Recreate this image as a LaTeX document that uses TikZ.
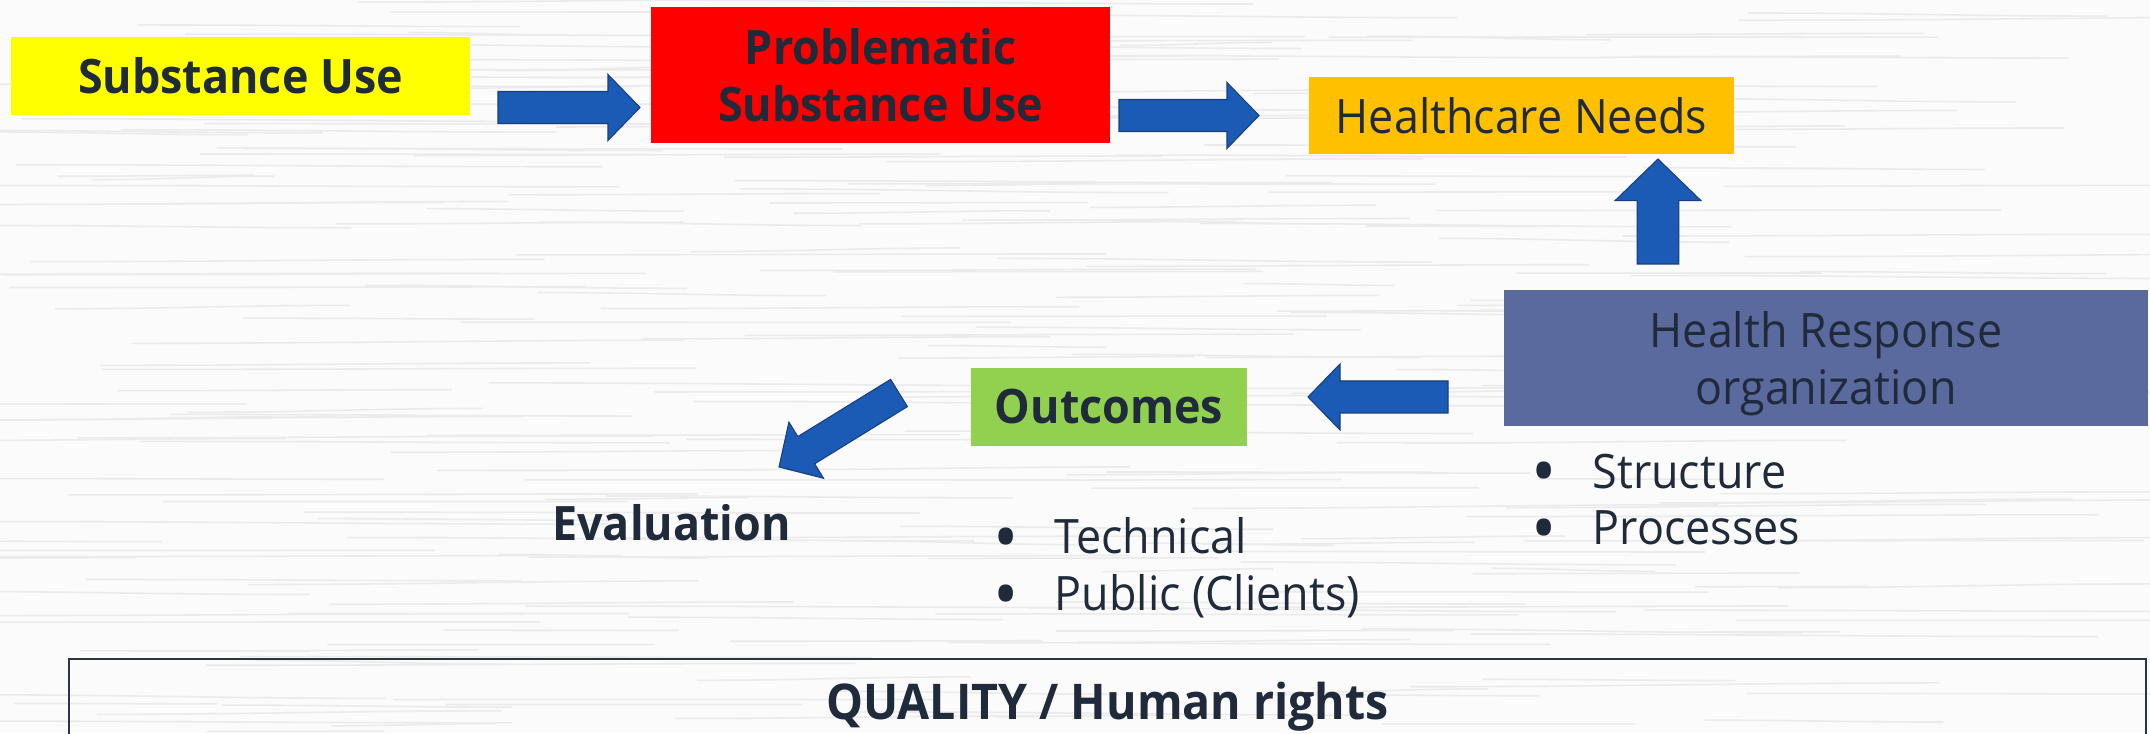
\documentclass[tikz,border=0pt]{standalone}
\usepackage{graphicx}
\usepackage{fontspec}
\setmainfont[FakeStretch=0.945]{Open Sans}
\usetikzlibrary{calc}
\definecolor{paper}{HTML}{FBFBFB}
\definecolor{ink}{HTML}{1F2A3A}
\definecolor{suyellow}{HTML}{FFFF00}
\definecolor{psured}{HTML}{FF0000}
\definecolor{hnorange}{HTML}{FFC000}
\definecolor{hrslate}{HTML}{5A6A9F}
\definecolor{ocgreen}{HTML}{92D050}
\definecolor{arrowblue}{HTML}{1B5AB5}
\definecolor{arrowedge}{HTML}{173F7E}
\definecolor{frameline}{HTML}{2A3646}
\newcommand{\dtext}{\fontsize{13.5}{16.2}\selectfont}
\newcommand{\bul}{\makebox[0.58cm][l]{\hspace{-0.03cm}\raisebox{-0.085cm}{\scalebox{1.5}{\textbullet}}}}
% block arrow from #2 to #3, #1 scales its width
\newcommand{\fatarrow}[3][1]{%
  \pgfmathsetlengthmacro\shaftw{#1*0.16cm}%
  \pgfmathsetlengthmacro\headw{#1*0.33cm}%
  \pgfmathsetlengthmacro\headl{#1*0.32cm}%
  \coordinate (#2-h) at ($(#3)!\headl!(#2)$);
  \draw[fat] ($(#2)!\shaftw!90:(#3)$) -- ($(#2-h)!\shaftw!90:(#3)$)
    -- ($(#2-h)!\headw!90:(#3)$) -- (#3)
    -- ($(#2-h)!\headw!-90:(#3)$) -- ($(#2-h)!\shaftw!-90:(#3)$)
    -- ($(#2)!\shaftw!-90:(#3)$) -- cycle;}

\begin{document}
\begin{tikzpicture}[
  box/.style={inner sep=0pt, text=ink, align=center, font=\dtext},
  fat/.style={fill=arrowblue, draw=arrowedge, line width=0.3pt, line join=miter},
  streak/.style={draw=black!8, line width=0.45pt}]
\fill[paper] (0,0) rectangle (21.5,7.33);
\useasboundingbox (0,0) rectangle (21.5,7.33);

% faint grain of the backdrop
\begin{scope}
\clip (0,0) rectangle (21.5,7.33);
\pgfmathsetseed{3}
\foreach \i in {1,...,260}{
  \pgfmathsetmacro\sx{-1+rnd*19}
  \pgfmathsetmacro\sy{rnd*7.33}
  \pgfmathsetmacro\sl{1.5+rnd*5}
  \pgfmathsetmacro\sd{(rnd-0.5)*0.08}
  \draw[streak] (\sx,\sy) to[out=0,in=180] ++(\sl,\sd);
}
\end{scope}

\node[box, fill=suyellow, minimum width=4.59cm, minimum height=0.78cm, font=\dtext\bfseries] (SU) at (2.405,6.57) {Substance Use};
\node[box, fill=psured, minimum width=4.59cm, minimum height=1.36cm, font=\dtext\bfseries] (PSU) at (8.805,6.58) {Problematic\\Substance Use};
\node[box, fill=hnorange, minimum width=4.25cm, minimum height=0.77cm] (HN) at (15.215,6.175) {Healthcare Needs};
\node[box, fill=hrslate, minimum width=6.44cm, minimum height=1.36cm, text depth=0pt] (HRO) at (18.26,3.75) {Health Response\\organization};
\node[box, fill=ocgreen, minimum width=2.76cm, minimum height=0.78cm, font=\dtext\bfseries] (OC) at (11.09,3.26) {Outcomes};
\node[box, anchor=base, font=\dtext\bfseries] (EV) at (6.715,1.92) {Evaluation};
\node[box, anchor=north west, align=left] (OCL) at (9.96,2.16)
  {\bul Technical\\\bul Public (Clients)};
\node[box, anchor=north west, align=left] (HRL) at (15.34,2.80)
  {\bul Structure\\\bul Processes};
\node[box, anchor=north, draw=frameline, line width=0.6pt, minimum width=20.77cm, minimum height=0.95cm,
  font=\fontsize{14}{17}\selectfont\bfseries] (QH) at (11.075,0.75) {QUALITY / Human rights};

% arrow ends
\coordinate (SU1) at (4.98,6.255);
\coordinate (PSU1) at (6.40,6.255);
\coordinate (PSU2) at (11.19,6.175);
\coordinate (HN1) at (12.59,6.175);
\coordinate (HRO1) at (16.58,4.69);
\coordinate (HN2) at (16.58,5.74);
\coordinate (HRO2) at (14.48,3.36);
\coordinate (OC1) at (13.08,3.36);
\coordinate (OC2) at (8.99,3.40);
\coordinate (EV1) at (7.79,2.66);

\fatarrow{SU1}{PSU1}
\fatarrow{PSU2}{HN1}
\fatarrow[1.3]{HRO1}{HN2}
\fatarrow{HRO2}{OC1}
\fatarrow{OC2}{EV1}
\end{tikzpicture}
\end{document}
